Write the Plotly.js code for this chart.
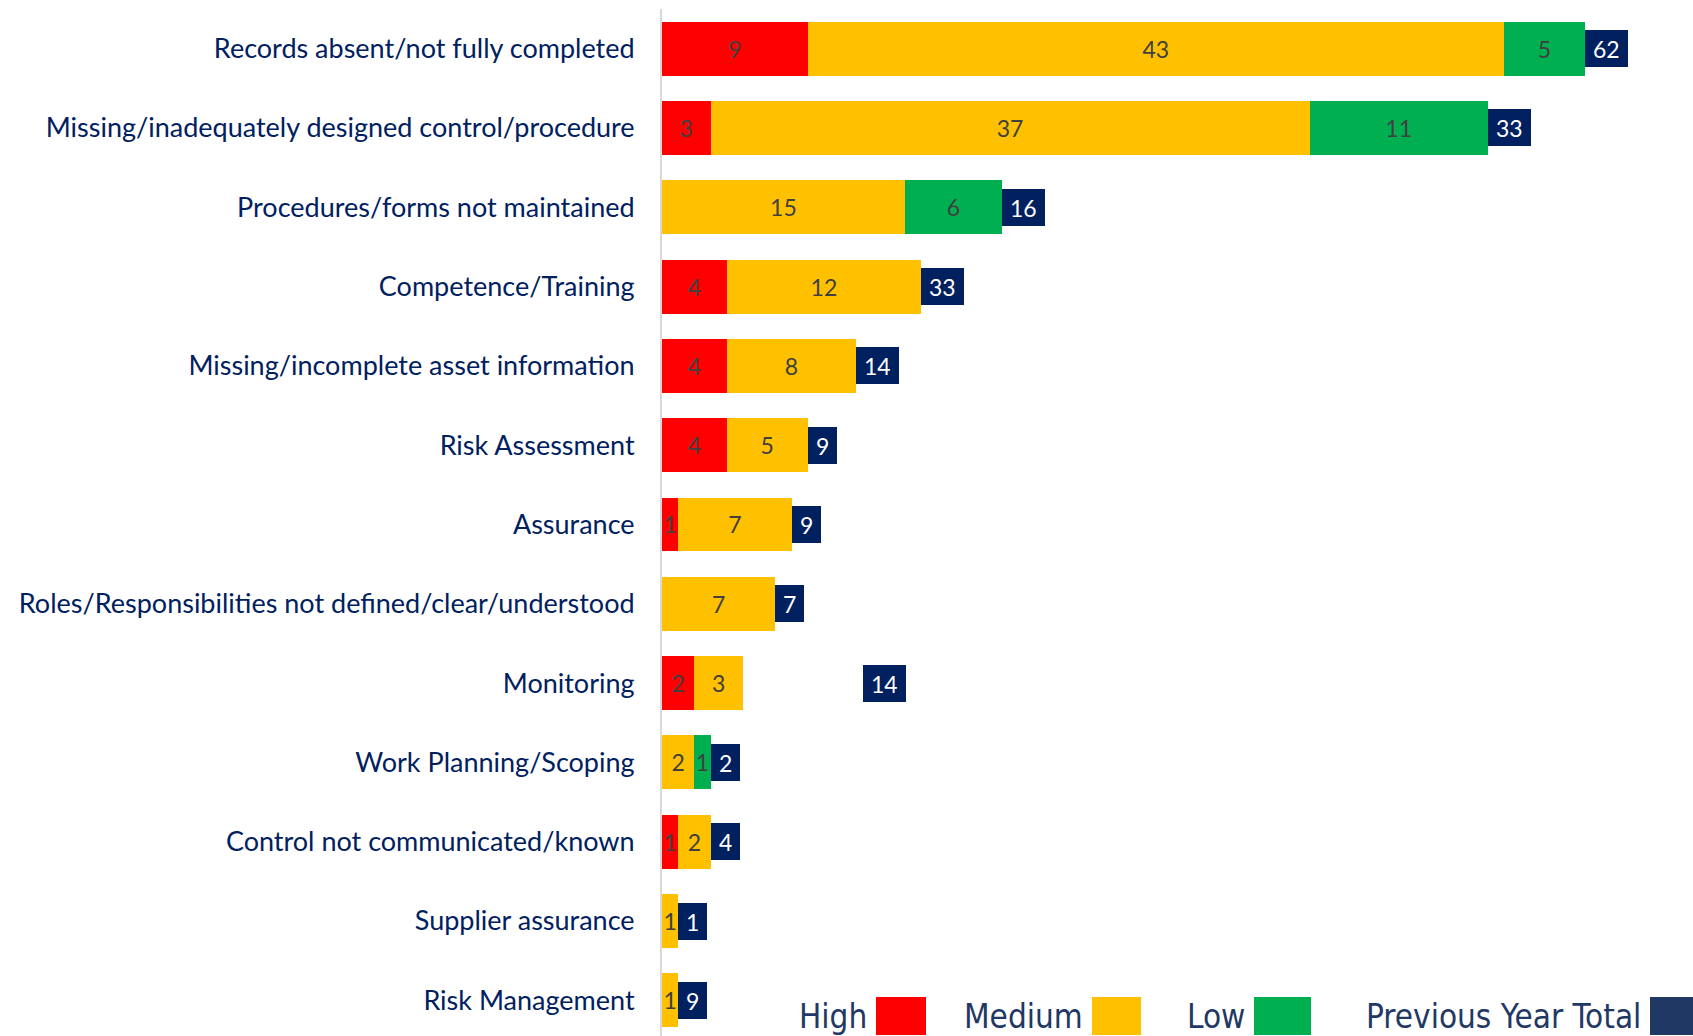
<!DOCTYPE html>
<html>
<head>
<meta charset="utf-8">
<script src="https://cdn.plot.ly/plotly-3.0.1.min.js"></script>
<style>html,body{margin:0;padding:0;background:#fff;}#chart{width:1693px;height:1036px;}</style>
</head>
<body>
<div id="chart"></div>
<script>
const categories = [
  "Records absent/not fully completed",
  "Missing/inadequately designed control/procedure",
  "Procedures/forms not maintained",
  "Competence/Training",
  "Missing/incomplete asset information",
  "Risk Assessment",
  "Assurance",
  "Roles/Responsibilities not defined/clear/understood",
  "Monitoring",
  "Work Planning/Scoping",
  "Control not communicated/known",
  "Supplier assurance",
  "Risk Management"
];
const high   = [9, 3, 0, 4, 4, 4, 1, 0, 2, 0, 1, 0, 0];
const medium = [43, 37, 15, 12, 8, 5, 7, 7, 3, 2, 2, 1, 1];
const low    = [5, 11, 6, 0, 0, 0, 0, 0, 0, 1, 0, 0, 0];
const previousYearTotal = [62, 33, 16, 33, 14, 9, 9, 7, 14, 2, 4, 1, 9];
// label of previous-year total for "Monitoring" sits detached from its bar in the source
const prevLabelGap = [0, 0, 0, 0, 0, 0, 0, 0, 7.4, 0, 0, 0, 0];
const seriesNames = ["High", "Medium", "Low", "Previous Year Total"];

const colors = ["#FF0000", "#FFC000", "#00B050", "#002060"];
const legendSwatch = ["#FF0000", "#FFC000", "#00B050", "#203864"];

const W = 1693, H = 1036;
const M = {l: 662, r: 11, t: 9, b: 0};
const PW = W - M.l - M.r, PH = H - M.t - M.b;
const px2x = p => (p - M.l) / PW;
const py2y = p => (H - M.b - p) / PH;

const segFont = {family: "Lato, 'Open Sans', sans-serif", size: 23, color: "#404040"};

function barTrace(vals, name, color) {
  return {
    type: "bar", orientation: "h", name: name,
    y: categories, x: vals.map(v => v > 0 ? v : null),
    text: vals.map(v => v > 0 ? String(v) : ""),
    textposition: "inside", insidetextanchor: "middle",
    constraintext: "none", textangle: 0,
    textfont: segFont, cliponaxis: false,
    marker: {color: color, line: {width: 0}},
    hoverinfo: "x+name", showlegend: false
  };
}

const traces = [
  barTrace(high, seriesNames[0], colors[0]),
  barTrace(medium, seriesNames[1], colors[1]),
  barTrace(low, seriesNames[2], colors[2])
];

const annotations = categories.map((c, i) => ({
  xref: "x", yref: "y",
  x: high[i] + medium[i] + low[i] + prevLabelGap[i], y: c,
  xanchor: "left", yanchor: "middle",
  text: String(previousYearTotal[i]),
  showarrow: false,
  font: {family: "Lato, 'Open Sans', sans-serif", size: 23, color: "#FFFFFF"},
  bgcolor: colors[3], borderwidth: 0, borderpad: 8, height: 21
}));

const shapes = [];
// custom legend: text then swatch
const legendItems = [
  {sw: [876, 926]},
  {sw: [1092, 1141]},
  {sw: [1254, 1311]},
  {sw: [1650, 1700]}
];
legendItems.forEach((it, i) => {
  shapes.push({
    type: "rect", xref: "paper", yref: "paper",
    x0: px2x(it.sw[0]), x1: px2x(it.sw[1]),
    y0: py2y(1035), y1: py2y(997),
    fillcolor: legendSwatch[i], line: {width: 0}
  });
  annotations.push({
    xref: "paper", yref: "paper",
    x: px2x(it.sw[0] - 7), y: py2y(1016),
    xanchor: "right", yanchor: "middle",
    text: seriesNames[i], showarrow: false,
    font: {family: "'Liberation Sans Narrow', 'Arial Narrow', 'DejaVu Sans Condensed', sans-serif", size: 33, color: "#1F3864"}
  });
});

const layout = {
  width: W, height: H,
  margin: M,
  paper_bgcolor: "#FFFFFF", plot_bgcolor: "#FFFFFF",
  barmode: "stack", bargap: 0.32,
  showlegend: false,
  xaxis: {range: [0, 63], showgrid: false, zeroline: false, showticklabels: false, showline: false, ticks: ""},
  yaxis: {
    type: "category", categoryorder: "array", categoryarray: categories,
    range: [12.45, -0.5],
    showgrid: false, zeroline: false,
    showline: true, linecolor: "#D9D9D9", linewidth: 2,
    ticks: "outside", ticklen: 20, tickcolor: "rgba(0,0,0,0)",
    tickfont: {family: "Lato, 'Open Sans', sans-serif", size: 27, color: "#002060"},
    automargin: false
  },
  annotations: annotations,
  shapes: shapes
};

Plotly.newPlot("chart", traces, layout, {displayModeBar: false, staticPlot: true});
</script>
</body>
</html>
